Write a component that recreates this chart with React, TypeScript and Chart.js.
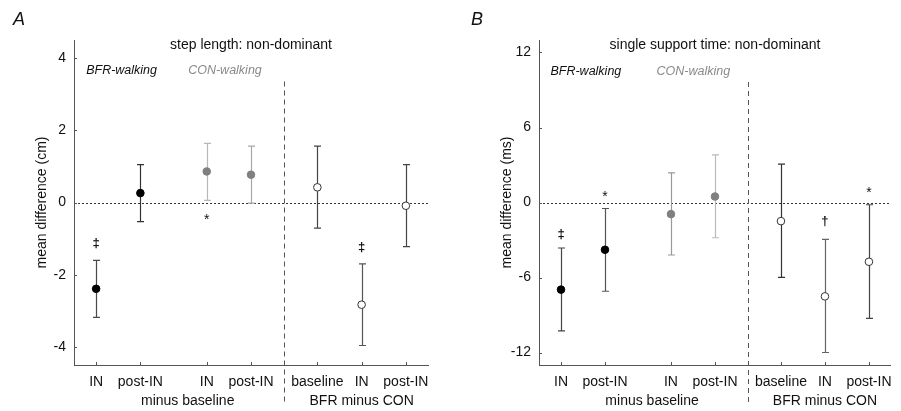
import React, { useEffect, useRef } from 'react';
import { Chart, registerables } from 'chart.js';

Chart.register(...registerables);

const FONT = '"Liberation Sans", Arial, Helvetica, sans-serif';

// ---- shared categories ----
const xPositions = [1, 2, 3.5, 4.5, 6, 7, 8];
const xLabels = ['IN', 'post-IN', 'IN', 'post-IN', 'baseline', 'IN', 'post-IN'];
const seriesKind = ['bfr', 'bfr', 'con', 'con', 'diff', 'diff', 'diff'];
const groupLabels = ['minus baseline', 'BFR minus CON'];
const groupCenters = [3.07, 7];
const dividerX = 5.25;
const seriesLabels = ['BFR-walking', 'CON-walking'];

// ---- Panel A: step length ----
const stepMean = [-2.39, 0.26, 0.86, 0.77, 0.42, -2.83, -0.09];
const stepLow = [-3.18, -0.53, 0.06, -0.02, -0.71, -3.96, -1.22];
const stepHigh = [-1.6, 1.05, 1.64, 1.56, 1.56, -1.7, 1.05];
const stepTicks = [-4, -2, 0, 2, 4];
const stepMarkX = [1, 3.5, 7];
const stepMarkY = [-1.14, -0.39, -1.24];
const stepMarkText = ['‡', '*', '‡'];

// ---- Panel B: single support time ----
const sstMean = [-6.97, -3.78, -0.93, 0.48, -1.49, -7.51, -4.74];
const sstLow = [-10.27, -7.1, -4.2, -2.82, -5.99, -12.0, -9.27];
const sstHigh = [-3.64, -0.48, 2.37, 3.81, 3.07, -2.95, -0.18];
const sstTicks = [-12, -6, 0, 6, 12];
const sstMarkX = [1, 2, 7, 8];
const sstMarkY = [-2.52, 0.67, -1.54, 0.99];
const sstMarkText = ['‡', '*', '†', '*'];

type Panel = {
  letter: string;
  letterX: number;
  title: string;
  yLabel: string;
  mean: number[];
  low: number[];
  high: number[];
  yMin: number;
  yMax: number;
  yTicks: number[];
  markX: number[];
  markY: number[];
  markText: string[];
  seriesLabelX: number[];
  seriesLabelY: number;
  dividerTop: number;
  barColors: string[];
  padRight: number;
  yWidth: number;
  yTitlePad: number;
};

const panelA: Panel = {
  letter: 'A',
  letterX: 13,
  title: 'step length: non-dominant',
  yLabel: 'mean difference (cm)',
  mean: stepMean,
  low: stepLow,
  high: stepHigh,
  yMin: -4.5,
  yMax: 4.5,
  yTicks: stepTicks,
  markX: stepMarkX,
  markY: stepMarkY,
  markText: stepMarkText,
  seriesLabelX: [0.775, 3.08],
  seriesLabelY: 3.65,
  dividerTop: 3.35,
  barColors: ['#4a4a4a', '#333333', '#b8b8b8', '#a8a8a8', '#444444', '#555555', '#444444'],
  padRight: 22,
  yWidth: 74,
  yTitlePad: 33.6,
};

const panelB: Panel = {
  letter: 'B',
  letterX: 21,
  title: 'single support time: non-dominant',
  yLabel: 'mean difference (ms)',
  mean: sstMean,
  low: sstLow,
  high: sstHigh,
  yMin: -13,
  yMax: 13,
  yTicks: sstTicks,
  markX: sstMarkX,
  markY: sstMarkY,
  markText: sstMarkText,
  seriesLabelX: [0.76, 3.17],
  seriesLabelY: 10.5,
  dividerTop: 9.64,
  barColors: ['#444444', '#555555', '#999999', '#bbbbbb', '#333333', '#666666', '#444444'],
  padRight: 8,
  yWidth: 89,
  yTitlePad: 48.3,
};

function buildChart(canvas: HTMLCanvasElement, p: Panel) {
  const pointBg = seriesKind.map((k) => (k === 'bfr' ? '#000000' : k === 'con' ? '#808080' : '#ffffff'));
  const pointBorder = seriesKind.map((k) => (k === 'bfr' ? '#000000' : k === 'con' ? '#808080' : '#333333'));

  const decor = {
    id: 'panelDecor',
    beforeDatasetsDraw(chart: any) {
      const { ctx, chartArea: a, scales } = chart;
      const x = scales.x;
      const y = scales.y;
      ctx.save();
      // dotted zero line
      ctx.strokeStyle = '#333';
      ctx.lineWidth = 1;
      ctx.setLineDash([2, 2]);
      const y0 = Math.round(y.getPixelForValue(0)) + 0.5;
      ctx.beginPath();
      ctx.moveTo(a.left, y0);
      ctx.lineTo(a.right, y0);
      ctx.stroke();
      // dashed divider
      ctx.setLineDash([5, 4]);
      ctx.strokeStyle = '#555';
      const xd = Math.round(x.getPixelForValue(dividerX)) + 0.5;
      ctx.beginPath();
      ctx.moveTo(xd, y.getPixelForValue(p.dividerTop));
      ctx.lineTo(xd, a.bottom + 40);
      ctx.stroke();
      ctx.setLineDash([]);
      // error bars
      xPositions.forEach((xv, i) => {
        const px = Math.round(x.getPixelForValue(xv)) + 0.5;
        const pl = y.getPixelForValue(p.low[i]);
        const ph = y.getPixelForValue(p.high[i]);
        ctx.strokeStyle = p.barColors[i];
        ctx.lineWidth = 1.2;
        ctx.beginPath();
        ctx.moveTo(px, pl);
        ctx.lineTo(px, ph);
        ctx.moveTo(px - 3.5, pl);
        ctx.lineTo(px + 3.5, pl);
        ctx.moveTo(px - 3.5, ph);
        ctx.lineTo(px + 3.5, ph);
        ctx.stroke();
      });
      ctx.restore();
    },
    afterDraw(chart: any) {
      const { ctx, chartArea: a, scales } = chart;
      const x = scales.x;
      const y = scales.y;
      ctx.save();
      // inward tick marks
      ctx.strokeStyle = '#555';
      ctx.lineWidth = 1;
      ctx.beginPath();
      p.yTicks.forEach((v) => {
        const py = Math.round(y.getPixelForValue(v)) + 0.5;
        ctx.moveTo(a.left, py);
        ctx.lineTo(a.left + 3, py);
      });
      xPositions.forEach((v) => {
        const px = Math.round(x.getPixelForValue(v)) + 0.5;
        ctx.moveTo(px, a.bottom);
        ctx.lineTo(px, a.bottom - 3);
      });
      ctx.stroke();

      // significance symbols
      ctx.fillStyle = '#111';
      ctx.textAlign = 'center';
      ctx.textBaseline = 'alphabetic';
      p.markText.forEach((t, i) => {
        ctx.font = t === '*' ? `14px ${FONT}` : `bold 13px ${FONT}`;
        const m = ctx.measureText(t);
        const px = x.getPixelForValue(p.markX[i]);
        const py = y.getPixelForValue(p.markY[i]);
        ctx.fillText(t, px, py + (m.actualBoundingBoxAscent - m.actualBoundingBoxDescent) / 2);
      });

      // title
      ctx.textBaseline = 'middle';
      ctx.font = `14px ${FONT}`;
      ctx.fillStyle = '#111';
      ctx.fillText(p.title, (a.left + a.right) / 2, a.top + 5);

      // series labels
      ctx.textAlign = 'left';
      ctx.font = `italic 12.5px ${FONT}`;
      ctx.fillStyle = '#111';
      ctx.fillText(seriesLabels[0], x.getPixelForValue(p.seriesLabelX[0]), y.getPixelForValue(p.seriesLabelY));
      ctx.fillStyle = '#8a8a8a';
      ctx.fillText(seriesLabels[1], x.getPixelForValue(p.seriesLabelX[1]), y.getPixelForValue(p.seriesLabelY));

      // group labels
      ctx.textAlign = 'center';
      ctx.font = `14px ${FONT}`;
      ctx.fillStyle = '#111';
      groupLabels.forEach((g, i) => {
        ctx.fillText(g, x.getPixelForValue(groupCenters[i]), a.bottom + 36);
      });

      // panel letter
      ctx.textAlign = 'left';
      ctx.font = `italic 18px ${FONT}`;
      ctx.fillStyle = '#111';
      ctx.fillText(p.letter, p.letterX, 20);
      ctx.restore();
    },
  };

  return new Chart(canvas, {
    type: 'scatter',
    data: {
      datasets: [
        {
          data: xPositions.map((xv, i) => ({ x: xv, y: p.mean[i] })),
          backgroundColor: pointBg,
          borderColor: pointBorder,
          pointRadius: 3.8,
          pointHoverRadius: 3.8,
          pointBorderWidth: 1,
          showLine: false,
        },
      ],
    },
    options: {
      responsive: false,
      animation: false,
      events: [],
      layout: { padding: { left: 0, right: p.padRight, top: 40, bottom: 0 } },
      plugins: { legend: { display: false }, tooltip: { enabled: false }, title: { display: false } },
      scales: {
        x: {
          type: 'linear',
          min: 0.5,
          max: 8.5,
          afterBuildTicks: (s: any) => {
            s.ticks = xPositions.map((v) => ({ value: v }));
          },
          afterFit: (s: any) => {
            s.height = 46;
          },
          grid: { display: false, drawTicks: false },
          border: { display: true, color: '#555', width: 1 },
          ticks: {
            autoSkip: false,
            maxRotation: 0,
            minRotation: 0,
            padding: 9,
            color: '#111',
            font: { size: 14, family: FONT },
            callback: (_v: any, i: number) => xLabels[i],
          },
        },
        y: {
          type: 'linear',
          min: p.yMin,
          max: p.yMax,
          afterBuildTicks: (s: any) => {
            s.ticks = p.yTicks.map((v) => ({ value: v }));
          },
          afterFit: (s: any) => {
            s.width = p.yWidth;
          },
          grid: { display: false, drawTicks: false },
          border: { display: true, color: '#555', width: 1 },
          ticks: {
            padding: 8,
            color: '#111',
            font: { size: 14, family: FONT },
          },
          title: {
            display: true,
            text: p.yLabel,
            color: '#111',
            font: { size: 14, family: FONT },
            padding: { top: p.yTitlePad, bottom: 0 },
          },
        },
      },
    },
    plugins: [decor],
  } as any);
}

export default function App() {
  const refA = useRef<HTMLCanvasElement>(null);
  const refB = useRef<HTMLCanvasElement>(null);
  useEffect(() => {
    Chart.defaults.font.family = FONT;
    const ca = buildChart(refA.current!, panelA);
    const cb = buildChart(refB.current!, panelB);
    return () => {
      ca.destroy();
      cb.destroy();
    };
  }, []);
  return (
    <div style={{ position: 'absolute', left: 0, top: 0, width: 901, height: 411, background: '#fff' }}>
      <canvas
        ref={refA}
        width={450}
        height={411}
        style={{ position: 'absolute', left: 0, top: 0, width: 450, height: 411 }}
      />
      <canvas
        ref={refB}
        width={451}
        height={411}
        style={{ position: 'absolute', left: 450, top: 0, width: 451, height: 411 }}
      />
    </div>
  );
}
